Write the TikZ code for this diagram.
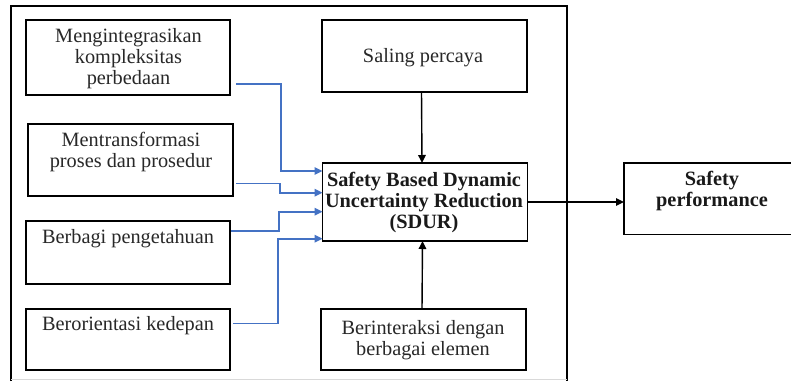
\documentclass[tikz,border=0pt]{standalone}
\usepackage{fontspec}
\setmainfont{Liberation Serif}
\usetikzlibrary{arrows.meta}
\definecolor{flowblue}{RGB}{68,114,196}
\definecolor{inkgray}{RGB}{40,40,40}
\begin{document}
\begin{tikzpicture}[x=1pt,y=-1pt,
  box/.style={draw=black,line width=1.6pt,inner sep=0pt,outer sep=0pt},
  txt/.style={align=center,text=inkgray,inner sep=0pt,font=\fontsize{20.3}{21}\selectfont},
  btxt/.style={align=center,text=black!90,inner sep=0pt,font=\fontsize{20.3}{20.6}\selectfont\bfseries},
  flow/.style={draw=flowblue,line width=1.6pt,-{Triangle[length=8pt,width=7.5pt]}},
  link/.style={draw=black,line width=1.4pt,-{Triangle[length=8pt,width=7.5pt]}}]
\useasboundingbox (0,0) rectangle (791,381);
\fill[white] (0,0) rectangle (791,381);

% outer frame around the group of factors
\draw[black,line width=1.6pt] (11,381) -- (11,6) -- (567,6) -- (567,381);
\draw[black!15,line width=1pt] (11,379) -- (567,379);

% left column boxes
\node[box,minimum width=204pt,minimum height=75pt] (b1) at (128,57.5) {};
\node[box,minimum width=205pt,minimum height=72pt] (b2) at (130.5,160) {};
\node[box,minimum width=204pt,minimum height=63pt] (b3) at (128,252.5) {};
\node[box,minimum width=204pt,minimum height=61pt] (b4) at (128,339.5) {};

% centre column boxes
\node[box,minimum width=205pt,minimum height=72pt] (sp) at (424.5,56) {};
\node[box,minimum width=205pt,minimum height=78pt] (sd) at (425,202) {};
\node[box,minimum width=205pt,minimum height=61pt] (bi) at (423.5,339.5) {};

% outcome box (runs off the right edge)
\node[box,minimum width=176pt,minimum height=71.3pt] (pf) at (712,198.7) {};

% box texts
\node[txt] (t1) at (128.5,59) {Mengintegrasikan\\kompleksitas\\perbedaan};
\node[txt] (t2) at (131,152.5) {Mentransformasi\\proses dan prosedur};
\node[txt] (t3) at (128,239) {Berbagi pengetahuan};
\node[txt] (t4) at (128,325.7) {Berorientasi kedepan};
\node[txt] (t5) at (423,58) {Saling percaya};
\node[btxt] (t6) at (424,202.5) {Safety Based Dynamic\\Uncertainty Reduction\\(SDUR)};
\node[txt] (t7) at (423,340) {Berinteraksi dengan\\berbagai elemen};
\node[btxt] (t8) at (712,191) {Safety\\performance};

% blue elbow connectors into SDUR
\draw[flow] (b1.east) ++(6,26.5) -- ++(45,0) |- ([yshift=31pt]sd.west);
\draw[flow] (b2.east) ++(3,23.3) -- ++(44,0) |- ([yshift=9.3pt]sd.west);
\draw[flow] (b3.east) ++(1,-21.5) -- ++(47.7,0) |- ([yshift=-9.7pt]sd.west);
\draw[flow] (b4.east) ++(3,-16.2) -- ++(45,0) |- ([yshift=-36.7pt]sd.west);

% black connectors
\draw[link] ([xshift=-3pt]sp.south) -- ([xshift=-3pt]sd.north);
\draw[link] ([xshift=-1.5pt]bi.north) -- ([xshift=-2.5pt]sd.south);
\draw[link] (sd.east) -- (sd.east -| pf.west);
\end{tikzpicture}
\end{document}
